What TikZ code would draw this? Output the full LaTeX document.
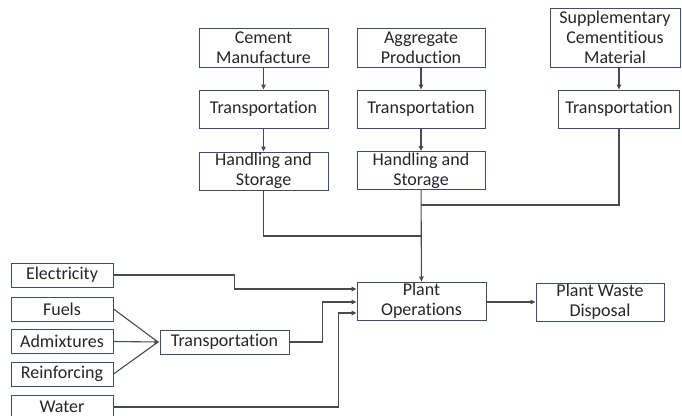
\documentclass[tikz,border=0pt]{standalone}
\usepackage{fontspec}
\setmainfont[Ligatures=NoCommon]{Carlito}
\usetikzlibrary{arrows.meta}
\definecolor{boxc}{HTML}{3E4C6A}
\definecolor{linec}{HTML}{4A4A4A}
\definecolor{txtc}{HTML}{262626}
\begin{document}
\begin{tikzpicture}[x=1pt,y=-1pt,
  box/.style={draw=boxc, line width=1pt, fill=white, inner sep=0pt, align=center,
     text=txtc, font=\fontsize{18}{20}\selectfont},
  conn/.style={draw=linec, line width=1.1pt},
  arr/.style={conn, -{Triangle[length=5pt,width=4.5pt]}}]
\useasboundingbox[fill=white] (0,0) rectangle (682,415);
% top columns
\node[box, minimum width=129pt, minimum height=39pt] (cem) at (263.5,47.5) {Cement\\Manufacture};
\node[box, minimum width=129pt, minimum height=38pt] (t1) at (263.5,109) {Transportation};
\node[box, minimum width=129pt, minimum height=38pt] (h1) at (263.5,171) {Handling and\\Storage};
\node[box, minimum width=128pt, minimum height=39pt] (agg) at (421,47.5) {Aggregate\\Production};
\node[box, minimum width=128pt, minimum height=38pt] (t2) at (421,109) {Transportation};
\node[box, minimum width=128pt, minimum height=38pt] (h2) at (421,170.5) {Handling and\\Storage};
\node[box, minimum width=130pt, minimum height=59pt] (sup) at (615,37.5) {Supplementary\\Cementitious\\Material};
\node[box, minimum width=121pt, minimum height=38pt] (t3) at (619,109) {Transportation};
% plant
\node[box, minimum width=129pt, minimum height=38pt] (plant) at (421.5,301) {Plant\\Operations};
\node[box, minimum width=128pt, minimum height=38pt] (waste) at (600,302) {Plant Waste\\Disposal};
% left inputs
\node[box, minimum width=102pt, minimum height=24pt] (elec) at (62,275) {Electricity};
\node[box, minimum width=102pt, minimum height=24pt] (fuels) at (62,309) {Fuels};
\node[box, minimum width=102pt, minimum height=24pt] (adm) at (62,341.5) {Admixtures};
\node[box, minimum width=102pt, minimum height=24pt] (reinf) at (62,374) {Reinforcing};
\node[box, minimum width=102pt, minimum height=24pt] (water) at (62,407) {Water};
\node[box, minimum width=129pt, minimum height=24pt] (t4) at (224.5,342) {Transportation};
\coordinate (j) at (158,342);
\coordinate (m1) at (421,236);
\coordinate (m2) at (421,205);
% connectors
\draw[arr] (cem) -- (t1);
\draw[arr] (t1) -- (h1);
\draw[arr] (agg) -- (t2);
\draw[arr] (t2) -- (h2);
\draw[arr] (sup.south -| t3.south) -- (t3);
\draw[conn] (h1.south) |- (m1);
\draw[conn] (t3.south) |- (m2);
\draw[arr] (h2) -- (plant);
\draw[arr] (elec.east) -- ++(121,0) |- ([yshift=12pt]plant.west);
\draw[arr] (t4.east) -- ++(33,0) |- ([yshift=-1pt]plant.west);
\draw[arr] (water.east) -- ++(225,0) |- ([yshift=-12pt]plant.west);
\draw[conn] (fuels.east) -- (j);
\draw[conn] (reinf.east) -- (j);
\draw[arr] (adm.east) -- (t4.west);
\draw[arr] (plant.east |- waste.west) -- (waste.west);
\end{tikzpicture}
\end{document}
